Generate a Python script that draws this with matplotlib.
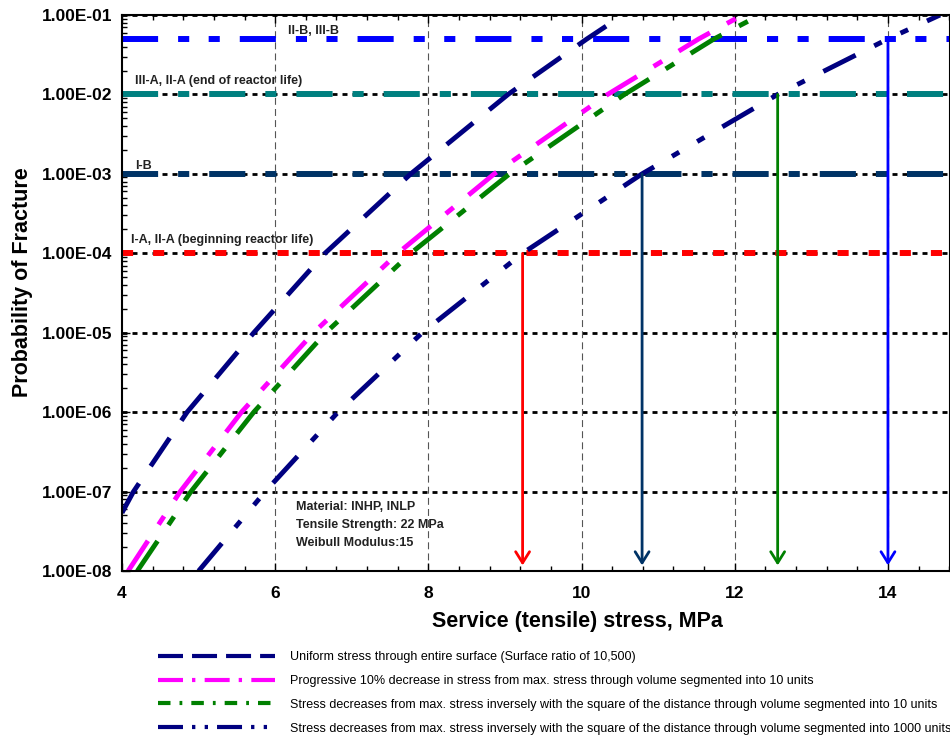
import numpy as np
import matplotlib.pyplot as plt
from matplotlib.lines import Line2D
from matplotlib.ticker import FixedLocator, MultipleLocator, LogLocator, NullFormatter

plt.rcParams['font.family'] = ['Liberation Sans', 'DejaVu Sans']
plt.rcParams['lines.scale_dashes'] = False

# probability of fracture vs service stress (MPa)
uniform_x = [4.0, 4.15, 4.85, 5.72, 6.65, 7.77, 9.04, 10.07, 10.54]
uniform_y = [5.4e-8, 1e-7, 1e-6, 1e-5, 1e-4, 1e-3, 1e-2, 5e-2, 1e-1]
prog_x = [4.08, 4.76, 5.56, 6.5, 7.6, 8.86, 10.34, 11.53, 12.1]
prog_y = [1e-8, 1e-7, 1e-6, 1e-5, 1e-4, 1e-3, 1e-2, 5e-2, 1e-1]
sq10_x = [4.2, 4.9, 5.72, 6.66, 7.77, 9.06, 10.56, 11.73, 12.33]
sq10_y = [1e-8, 1e-7, 1e-6, 1e-5, 1e-4, 1e-3, 1e-2, 5e-2, 1e-1]
sq1000_x = [5.0, 5.87, 6.82, 7.92, 9.23, 10.79, 12.56, 14.0, 14.68]
sq1000_y = [1e-8, 1e-7, 1e-6, 1e-5, 1e-4, 1e-3, 1e-2, 5e-2, 1e-1]

legend_labels = [
    'Uniform stress through entire surface (Surface ratio of 10,500)',
    'Progressive 10% decrease in stress from max. stress through volume segmented into 10 units',
    'Stress decreases from max. stress inversely with the square of the distance through volume segmented into 10 units',
    'Stress decreases from max. stress inversely with the square of the distance through volume segmented into 1000 units',
]

# acceptance levels
ref_levels = [5e-2, 1e-2, 1e-3, 1e-4]
ref_names = ['II-B, III-B', 'III-A, II-A (end of reactor life)', 'I-B',
             'I-A, II-A (beginning reactor life)']
ref_colors = ['#0000FF', '#008080', '#003366', '#FF0000']
arrow_colors = ['#0000FF', '#008000', '#003366', '#FF0000']

yticks = [1e-8, 1e-7, 1e-6, 1e-5, 1e-4, 1e-3, 1e-2, 1e-1]
xticks = [4, 6, 8, 10, 12, 14]

fig = plt.figure(figsize=(9.5, 7.37), dpi=100)
ax = fig.add_axes([122/950, 1-571/737, 828/950, 556/737])
ax.set_yscale('log')
ax.set_xlim(4, 14.81)
ax.set_ylim(1e-8, 1e-1)

# grid
for yv in yticks:
    ax.axhline(yv, color='black', lw=2, dashes=(3.6, 3.6), zorder=1)
for xv in xticks[1:]:
    ax.axvline(xv, color='#555555', lw=0.8, dashes=(5, 3), zorder=1)

# acceptance lines
ref_dash = [(26, 14.4, 8, 14, 8, 14.4), (26, 14.4, 8, 14.4), (26, 14.4, 8, 14.4), (8, 14.4)]
for lev, c, d in zip(ref_levels, ref_colors, ref_dash):
    ax.axhline(lev, color=c, lw=4.3, dashes=d, zorder=2)

# curves
ax.plot(uniform_x, uniform_y, color='#000080', lw=3.5, dashes=(24.5, 15), zorder=3)
ax.plot(prog_x, prog_y, color='#FF00FF', lw=3.5, dashes=(26, 14, 7.2, 14), zorder=3)
ax.plot(sq10_x, sq10_y, color='#008000', lw=3.5, dashes=(26, 14, 7.2, 14), zorder=3)
ax.plot(sq1000_x, sq1000_y, color='#000080', lw=3.5, dashes=(26, 15, 6, 15, 6, 15), zorder=3)

# arrows from where the 1000-unit curve meets each level
for lev, c in zip(ref_levels, arrow_colors):
    xa = np.interp(np.log10(lev), np.log10(sq1000_y), sq1000_x)
    ax.annotate('', xy=(xa, 1e-8), xytext=(xa, lev),
                arrowprops=dict(arrowstyle='->,head_length=0.8,head_width=0.5',
                                color=c, lw=2, shrinkA=0, shrinkB=4), zorder=4)

# level labels
def fx(px):
    return (px - 122) / 828

def fy(py):
    return (571 - py) / 556

label_pos = [(288, 31), (135, 81), (135, 166), (131, 240)]
for name, (px, py) in zip(ref_names, label_pos):
    ax.text(fx(px), fy(py), name, transform=ax.transAxes, fontsize=9,
            fontweight='bold', color='#222222', va='center', ha='left', zorder=5)

for txt, py in zip(['Material: INHP, INLP', 'Tensile Strength: 22 MPa', 'Weibull Modulus:15'],
                   [507, 525, 543]):
    ax.text(fx(296), fy(py), txt, transform=ax.transAxes, fontsize=9,
            fontweight='bold', color='#222222', va='center', ha='left', zorder=5)

# ticks
ax.yaxis.set_major_locator(FixedLocator(yticks))
ax.set_yticklabels(['{:.2E}'.format(v) for v in yticks])
ax.yaxis.set_minor_locator(LogLocator(base=10, subs=np.arange(2, 10)))
ax.yaxis.set_minor_formatter(NullFormatter())
ax.set_xticks(xticks)
ax.set_xticklabels([str(v) for v in xticks])
ax.xaxis.set_minor_locator(MultipleLocator(0.4))
ax.tick_params(which='both', direction='in', top=True, right=False, width=1)
ax.tick_params(which='major', length=6, labelsize=12.5)
ax.tick_params(axis='y', which='major', pad=7)
ax.tick_params(axis='x', which='major', pad=11)
ax.tick_params(which='minor', length=3.5)
for lab in ax.get_xticklabels() + ax.get_yticklabels():
    lab.set_fontweight('bold')
for sp in ax.spines.values():
    sp.set_linewidth(1.5)
    sp.set_zorder(6)

ax.set_xlabel('Service (tensile) stress, MPa', fontsize=15.5, fontweight='bold')
ax.xaxis.set_label_coords(fx(577), fy(611))
ax.set_ylabel('Probability of Fracture', fontsize=15.5, fontweight='bold')
ax.yaxis.set_label_coords(fx(33), 0.5 + 0.02)

# legend
handles = [
    Line2D([], [], color='#000080', lw=3, dashes=(18, 6.5)),
    Line2D([], [], color='#FF00FF', lw=3, dashes=(18, 6.5, 2.4, 6.7)),
    Line2D([], [], color='#008000', lw=3, dashes=(9, 6.5, 2, 6.5)),
    Line2D([], [], color='#000080', lw=3, dashes=(18, 6.5, 2.4, 6.7, 2.4, 6.5)),
]
fig.legend(handles, legend_labels, loc='upper left',
           bbox_to_anchor=(158/950, 1-651/737), frameon=False,
           prop={'size': 9},
           handlelength=117/12.5, handletextpad=1.2, labelspacing=0.95,
           borderpad=0, borderaxespad=0)

fig.savefig('out.png', dpi=100)
